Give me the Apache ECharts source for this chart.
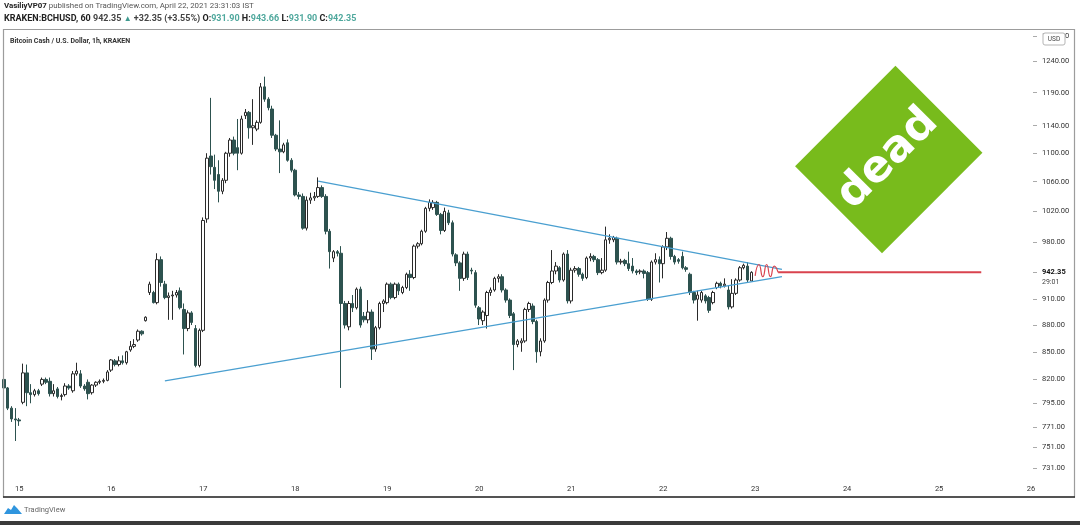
<!DOCTYPE html>
<html><head><meta charset="utf-8">
<script src="https://cdn.jsdelivr.net/npm/echarts@6/dist/echarts.min.js"></script>
<style>html,body{margin:0;padding:0;background:#fff}#c{width:1080px;height:525px}</style>
</head><body><div id="c"></div>
<script>
// ---- data ----
const dayLabels = ['15','16','17','18','19','20','21','22','23','24','25','26'];
const leadCategories = ['14 20:00','14 21:00','14 22:00','14 23:00'];

const opens = [
820,811,790,779,778,796,827,806,804,808,
815,820,818,805,810,802,804,813,808,826,
826,813,817,806,814,817,818,819,830,840,
836,840,838,852,856,863,873,885,918,918,
906,958,928,912,914,915,920,898,876,894,
876,835,874,1010,1096,1080,1070,1047,1062,1100,
1119,1108,1100,1155,1160,1137,1135,1145,1199,1180,
1165,1126,1106,1102,1115,1090,1076,1042,1040,998,
1035,1038,1040,1052,1040,994,960,968,966,905,
878,905,900,922,890,886,895,853,877,905,
906,928,912,928,918,924,940,936,975,978,
994,1024,1025,1032,1016,995,1018,1005,964,954,
935,965,945,942,900,885,891,918,921,935,
937,921,909,893,858,860,862,898,902,884,
850,862,909,930,944,948,933,965,908,945,
947,940,936,960,962,958,942,945,983,983,
985,955,957,953,950,944,943,944,942,910,
955,958,953,974,985,962,958,962,948,940,
918,910,909,914,912,906,924,929,926,921,
901,917,933,948,950,931.90];
const closes = [
811,790,779,778,777,827,806,804,808,805,
820,817,805,808,802,803,813,811,826,829,
813,810,805,814,817,818,819,828,841,836,
840,838,850,856,858,873,870,889,928,906,
958,930,912,914,915,918,900,876,894,883,
835,874,1008,1093,1081,1062,1047,1062,1100,1119,
1100,1100,1150,1160,1137,1140,1145,1199,1180,1167,
1126,1106,1102,1112,1090,1076,1042,1040,998,1035,
1038,1040,1052,1040,994,968,968,966,905,880,
905,900,922,880,886,895,853,877,905,908,
928,912,928,920,924,940,936,975,978,994,
1024,1032,1032,1016,995,1020,1005,965,954,935,
965,936,944,903,887,895,918,921,935,937,
921,909,891,858,862,862,898,905,884,850,
862,909,930,944,950,933,965,908,945,947,
940,935,960,962,958,942,945,983,985,986,
955,956,953,947,944,942,944,941,910,955,
958,953,974,985,962,955,956,948,946,918,
909,915,918,908,897,918,929,926,928,901,
917,933,948,951,933,942.35];
const lows = [
808,788,776,757,772,794,792,795,802,803,
813,815,802,802,800,798,802,809,806,824,
811,808,799,804,812,815,816,818,828,834,
834,836,836,850,854,861,868,884,915,905,
904,925,910,886,886,912,898,847,873,880,
833,833,872,1005,1070,1050,1032,1043,1058,1095,
1097,1076,1098,1150,1121,1112,1132,1143,1176,1163,
1122,1103,1072,1100,1088,1073,1040,1036,996,995,
1030,1034,1038,1038,990,947,955,962,811,876,
874,895,898,877,883,882,841,850,875,895,
904,910,910,915,916,922,920,934,972,976,
992,1020,1022,1014,990,993,1002,962,950,920,
932,933,940,900,880,880,876,914,919,930,
918,906,888,830,855,850,860,895,881,838,
845,860,906,928,940,930,931,905,905,942,
937,932,934,956,955,939,940,943,978,980,
952,952,950,944,941,939,940,935,908,908,
952,930,935,970,958,952,953,946,943,915,
905,885,906,905,894,904,922,923,924,898,
899,915,931,946,930,931.90];
const highs = [
823,812,792,790,780,837,836,815,810,810,
822,822,822,815,812,805,816,815,829,838,
830,815,820,815,818,820,821,830,842,842,
845,846,851,862,864,875,874,890,931,920,
966,962,932,918,920,921,924,905,897,896,
880,876,1012,1100,1182,1098,1090,1065,1102,1122,
1124,1150,1155,1165,1162,1180,1148,1205,1215,1183,
1170,1128,1148,1115,1120,1093,1078,1046,1044,1040,
1045,1046,1066,1055,1043,997,970,970,975,908,
908,915,924,925,895,909,898,879,907,910,
930,930,930,930,926,942,945,977,980,996,
1026,1036,1035,1034,1018,1025,1022,1008,966,956,
968,968,948,945,902,897,920,924,937,940,
940,923,911,895,864,865,900,907,905,886,
865,911,932,970,955,950,967,970,948,950,
949,942,962,966,964,960,960,1000,990,988,
987,959,959,968,960,946,946,946,944,957,
966,962,976,993,987,964,960,968,950,942,
920,920,920,916,914,920,931,931,935,926,
934,935,950,953,955,943.66];

const priceTicks = [1280,1240,1190,1140,1100,1060,1020,980,942.35,910,880,850,820,795,771,751,731];
const lastPrice = 942.35;
const upperTrend = [[82,1061],[203,946]];
const lowerTrend = [[42,818.5],[203,937]];
const squiggle = [[196,938],[197,952],[198,937],[199,952],[200,937],[201,950],[202,942.35]];
const targetLine = [[202,942.35],[255,942.35]];
const priceMin = 719.6, priceMax = 1290.9;

// ---- build ----
const categories = leadCategories.slice();
dayLabels.forEach(d => { for (let h = 0; h < 24; h++) categories.push(d + ' ' + String(h).padStart(2,'0') + ':00'); });
categories.length = 4 + 11*24 + 1;
const ohlc = opens.map((o, i) => [o, closes[i], lows[i], highs[i]]);

const F = 'Roboto, "Noto Sans", sans-serif';
const chart = echarts.init(document.getElementById('c'), null, {renderer: 'canvas'});
chart.setOption({
  animation: false,
  backgroundColor: '#ffffff',
  title: [
    {left: 4, top: 2, padding: 0,
     text: '{b|VasiliyVP07} published on TradingView.com, April 22, 2021 23:31:03 IST',
     textStyle: {fontFamily: F, fontSize: 7.9, fontWeight: 'normal', color: '#555',
       rich: {b: {fontFamily: F, fontSize: 7.9, fontWeight: 'bold', color: '#222'}}}},
    {left: 4, top: 14, padding: 0,
     text: '{b|KRAKEN:BCHUSD, 60} {n|942.35} {u|▲} {n|+32.35 (+3.55%)} {b|O:}{v|931.90} {b|H:}{v|943.66} {b|L:}{v|931.90} {b|C:}{v|942.35}',
     textStyle: {fontFamily: F, fontSize: 9, color: '#444',
       rich: {b: {fontFamily: F, fontSize: 9, fontWeight: 'bold', color: '#222'},
              n: {fontFamily: F, fontSize: 9, color: '#444'},
              u: {fontFamily: F, fontSize: 8, color: '#3e9a8f'},
              v: {fontFamily: F, fontSize: 9, color: '#4fa89d'}}}},
    {left: 10, top: 38, padding: 0, text: 'Bitcoin Cash / U.S. Dollar, 1h, KRAKEN',
     textStyle: {fontFamily: F, fontSize: 7, fontWeight: 'bold', color: '#333'}}
  ],
  grid: {left: 2, right: 47, top: 30, bottom: 45, containLabel: false},
  xAxis: {
    type: 'category', data: categories, boundaryGap: true,
    axisLine: {show: false}, axisTick: {show: false}, splitLine: {show: false},
    axisLabel: {
      interval: (idx, val) => String(val).slice(-5) === '00:00',
      formatter: v => String(v).split(' ')[0],
      fontFamily: F, fontSize: 7.5, color: '#333', margin: 5
    }
  },
  yAxis: {
    type: 'log', logBase: 10, position: 'right', min: priceMin, max: priceMax,
    axisLine: {show: false}, splitLine: {show: false},
    axisTick: {show: true, customValues: priceTicks, length: 4, lineStyle: {color: '#aaa'}},
    axisLabel: {customValues: priceTicks,
      formatter: v => Number(v) === lastPrice ? '{c|' + Number(v).toFixed(2) + '}' : Number(v).toFixed(2),
      fontFamily: F, fontSize: 7.5, color: '#333', margin: 9,
      rich: {c: {fontFamily: F, fontSize: 7.5, color: '#111', fontWeight: 'bold'}}}
  },
  series: [
    {type: 'candlestick', data: ohlc, barWidth: 3,
     itemStyle: {color: '#ffffff', color0: '#2d524f', borderColor: '#2a2a2a', borderColor0: '#2d524f', borderWidth: 1}},
    {type: 'line', data: upperTrend, symbol: 'none', silent: true,
     lineStyle: {color: '#4a9fd0', width: 1.3}, z: 3},
    {type: 'line', data: lowerTrend, symbol: 'none', silent: true,
     lineStyle: {color: '#4a9fd0', width: 1.3}, z: 3},
    {type: 'line', data: squiggle, symbol: 'none', smooth: 0.6, silent: true,
     lineStyle: {color: '#d9434e', width: 1.2}, z: 4},
    {type: 'line', data: targetLine, symbol: 'none', silent: true,
     lineStyle: {color: '#d9434e', width: 2}, z: 4}
  ],
  graphic: [
    {type: 'rect', z: 50, silent: true, shape: {x: 3.5, y: 29.5, width: 1071, height: 467.5},
     style: {fill: 'none', stroke: '#9c9c9c', lineWidth: 1.2}},
    {type: 'line', z: 51, silent: true, shape: {x1: 3, y1: 497, x2: 1075, y2: 497},
     style: {stroke: '#2b2b2b', lineWidth: 1.5}},
    {type: 'rect', z: 60, silent: true, x: 888.75, y: 159.5, rotation: -Math.PI/4,
     shape: {x: -61.5, y: -71, width: 123, height: 142}, style: {fill: '#78bb1c'}},
    {type: 'text', z: 61, silent: true, x: 888, y: 159, rotation: Math.PI/4,
     style: {text: 'dead', x: 0, y: 0, fill: '#ffffff', font: 'bold 44px "DejaVu Sans"', align: 'center', verticalAlign: 'middle', textAlign: 'center', textVerticalAlign: 'middle'}},
    {type: 'rect', z: 70, silent: true, shape: {x: 1043, y: 33, width: 22, height: 12, r: 2},
     style: {fill: '#ffffff', stroke: '#b5b5b5', lineWidth: 1}},
    {type: 'text', z: 71, silent: true, x: 1054, y: 39.5,
     style: {text: 'USD', fill: '#444', font: '6.5px Roboto', align: 'center', verticalAlign: 'middle', textAlign: 'center', textVerticalAlign: 'middle'}},
    {type: 'text', z: 71, silent: true, x: 1042, y: 282,
     style: {text: '29:01', fill: '#444', font: '7px Roboto', align: 'left', verticalAlign: 'middle', textAlign: 'left', textVerticalAlign: 'middle'}},
    {type: 'polygon', z: 71, silent: true,
     shape: {points: [[4,514],[8,508],[11,510],[14,505],[17,508],[22,514]]}, style: {fill: '#2f95de'}},
    {type: 'text', z: 71, silent: true, x: 24, y: 510,
     style: {text: 'TradingView', fill: '#666', font: '7.5px Roboto', align: 'left', verticalAlign: 'middle', textAlign: 'left', textVerticalAlign: 'middle'}},
    {type: 'rect', z: 71, silent: true, shape: {x: 0, y: 521, width: 1080, height: 4}, style: {fill: '#3a3a3a'}}
  ]
});
</script></body></html>
